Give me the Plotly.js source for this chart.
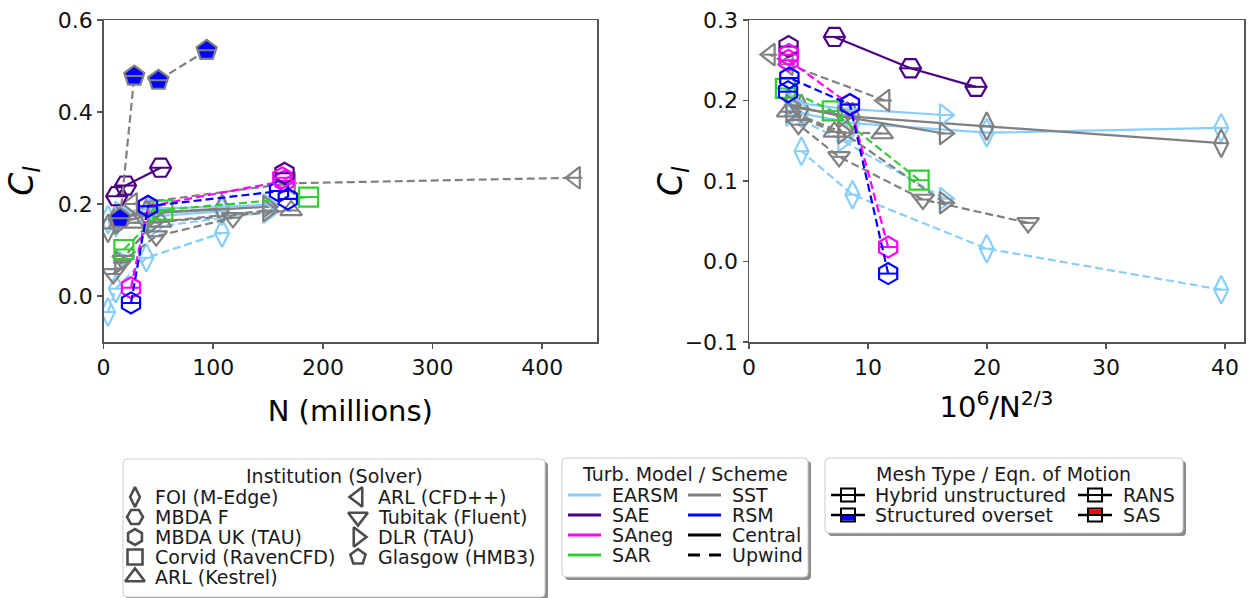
<!DOCTYPE html>
<html><head><meta charset="utf-8">
<script src="https://cdn.plot.ly/plotly-3.0.1.min.js"></script>
<style>html,body{margin:0;padding:0;background:#fff}#chart{width:1250px;height:598px}</style>
</head><body><div id="chart"></div>
<script>
// ---------------- DATA (N = mesh size in millions, Cl = lift coefficient) ----------------
const foiN = [4, 11.2, 39, 108];
const foiEarsmCentralCl = [0.166, 0.160, 0.172, 0.184];
const foiSstCentralCl   = [0.147, 0.168, 0.180, 0.190];
const foiEarsmUpwindCl  = [-0.035, 0.016, 0.083, 0.137];

const mbdaFN = [12, 20, 52];
const mbdaFSaeCl = [0.217, 0.240, 0.279];

const mbdaUkN = [25, 40.5, 165];
const mbdaUkSanegCl = [0.018, 0.195, 0.250];
const mbdaUkRsmN = [25, 40.5, 160];
const mbdaUkRsmCl = [-0.015, 0.195, 0.228];
const mbdaUkSaeFineN = [165];   const mbdaUkSaeFineCl = [0.267];
const mbdaUkSanegFineN = [163]; const mbdaUkSanegFineCl = [0.257];
const mbdaUkRsmFineN = [168];   const mbdaUkRsmFineCl = [0.211];

const corvidN = [18.5, 54, 187];
const corvidSarCl = [0.101, 0.187, 0.215];

const kestrelN = [26.7, 52, 171];
const kestrelSstCl = [0.159, 0.161, 0.186];

const cfdppN = [26, 170, 430];
const cfdppSstCl = [0.200, 0.245, 0.257];

const tubitakN = [8.8, 17.9, 48, 118];
const tubitakSstCl = [0.048, 0.077, 0.130, 0.170];

const dlrN = [15, 45, 150];
const dlrEarsmCentralCl = [0.182, 0.190, 0.198];
const dlrSstCentralCl   = [0.159, 0.180, 0.194];
const dlrEarsmUpwindCl  = [0.078, 0.150, 0.182];
const dlrSstUpwindCl    = [0.073, 0.160, 0.186];

const glasgowN = [15, 28, 50, 94];
const glasgowSstSasCl = [0.169, 0.478, 0.469, 0.534];

const leftXTicks = [0, 100, 200, 300, 400];
const leftYTicks = [0.0, 0.2, 0.4, 0.6];
const rightXTicks = [0, 10, 20, 30, 40];
const rightYTicks = [-0.1, 0.0, 0.1, 0.2, 0.3];

const institutionLabels = ['FOI (M-Edge)', 'MBDA F', 'MBDA UK (TAU)', 'Corvid (RavenCFD)', 'ARL (Kestrel)',
                           'ARL (CFD++)', 'Tubitak (Fluent)', 'DLR (TAU)', 'Glasgow (HMB3)'];
const modelLabels = ['EARSM', 'SAE', 'SAneg', 'SAR', 'SST', 'RSM', 'Central', 'Upwind'];
const meshLabels = ['Hybrid unstructured', 'Structured overset', 'RANS', 'SAS'];

// ---------------- STYLE ----------------
const COL = {EARSM:'#87cefa', SAE:'#4b0082', SANEG:'#ff00ff', SAR:'#32cd32', SST:'#808080', RSM:'#0000ff'};
const SYM = {foi:'diamond-tall', mbdaF:'hexagon2', mbdaUk:'hexagon', corvid:'square', kestrel:'triangle-up',
             cfdpp:'triangle-left', tubitak:'triangle-down', dlr:'triangle-right', glasgow:'pentagon'};
const SIZE = {'diamond-tall':20, 'hexagon2':21, 'hexagon':21, 'square':19, 'triangle-up':19, 'triangle-left':19,
              'triangle-down':19, 'triangle-right':19, 'pentagon':21};
const EW = {'diamond-tall':0.5, 'hexagon2':0.714, 'hexagon':0.62, 'square':0.714, 'triangle-up':0.55,
            'triangle-left':0.55, 'triangle-down':0.55, 'triangle-right':0.55, 'pentagon':0.66};
const DASH = '8px,4px';

const series = [
  {n:foiN, cl:foiEarsmUpwindCl, c:COL.EARSM, dash:DASH, sym:SYM.foi},
  {n:foiN, cl:foiEarsmCentralCl, c:COL.EARSM, dash:'solid', sym:SYM.foi},
  {n:foiN, cl:foiSstCentralCl, c:COL.SST, dash:'solid', sym:SYM.foi},
  {n:dlrN, cl:dlrEarsmCentralCl, c:COL.EARSM, dash:'solid', sym:SYM.dlr},
  {n:dlrN, cl:dlrSstCentralCl, c:COL.SST, dash:'solid', sym:SYM.dlr},
  {n:dlrN, cl:dlrEarsmUpwindCl, c:COL.EARSM, dash:DASH, sym:SYM.dlr},
  {n:dlrN, cl:dlrSstUpwindCl, c:COL.SST, dash:DASH, sym:SYM.dlr},
  {n:tubitakN, cl:tubitakSstCl, c:COL.SST, dash:DASH, sym:SYM.tubitak},
  {n:kestrelN, cl:kestrelSstCl, c:COL.SST, dash:DASH, sym:SYM.kestrel},
  {n:cfdppN, cl:cfdppSstCl, c:COL.SST, dash:DASH, sym:SYM.cfdpp},
  {n:corvidN, cl:corvidSarCl, c:COL.SAR, dash:DASH, sym:SYM.corvid},
  {n:mbdaUkN, cl:mbdaUkSanegCl, c:COL.SANEG, dash:DASH, sym:SYM.mbdaUk},
  {n:mbdaUkRsmN, cl:mbdaUkRsmCl, c:COL.RSM, dash:DASH, sym:SYM.mbdaUk},
  {n:mbdaUkSaeFineN, cl:mbdaUkSaeFineCl, c:COL.SAE, dash:DASH, sym:SYM.mbdaUk},
  {n:mbdaUkSanegFineN, cl:mbdaUkSanegFineCl, c:COL.SANEG, dash:DASH, sym:SYM.mbdaUk},
  {n:mbdaUkRsmFineN, cl:mbdaUkRsmFineCl, c:COL.RSM, dash:DASH, sym:SYM.mbdaUk},
  {n:mbdaFN, cl:mbdaFSaeCl, c:COL.SAE, dash:'solid', sym:SYM.mbdaF},
  // structured overset (blue fill), SAS
  {n:glasgowN, cl:glasgowSstSasCl, c:COL.SST, dash:DASH, sym:SYM.glasgow, fill:'#0000ff', leftOnly:true}
];

const traces = [];
series.forEach(s => {
  const xr = s.n.map(v => 100 / Math.pow(v, 2/3)); // 10^6 / (N*10^6)^(2/3)
  const panels = s.leftOnly ? [['x','y',s.n]] : [['x','y',s.n], ['x2','y2',xr]];
  panels.forEach(([xa, ya, xs]) => {
    const mk = {symbol: s.fill ? s.sym : s.sym + '-open', size:SIZE[s.sym],
                color: s.fill ? s.fill : s.c, line:{color:s.c, width:2.2}};
    traces.push({
      type:'scatter', mode:'lines+markers', x:xs, y:s.cl, xaxis:xa, yaxis:ya,
      line:{color:s.c, width:2.2, dash:s.dash}, marker:mk,
      hoverinfo:'skip', showlegend:false, cliponaxis:true
    });
    traces.push({
      type:'scatter', mode:'markers', x:xs, y:s.cl, xaxis:xa, yaxis:ya,
      marker:{symbol:'line-ew', size:SIZE[s.sym]*EW[s.sym], color:s.c, line:{color:s.c, width:2}},
      hoverinfo:'skip', showlegend:false
    });
  });
});

// ---------------- LEGENDS (drawn in a pixel-space overlay axis) ----------------
const TXT = {family:'DejaVu Sans, sans-serif', size:19, color:'#1a1a1a'};
const annotations = [];
const shapes = [];
function rrect(x0,y0,x1,y1,r){
  return `M${x0+r},${y0} L${x1-r},${y0} Q${x1},${y0} ${x1},${y0+r} L${x1},${y1-r} Q${x1},${y1} ${x1-r},${y1} ` +
         `L${x0+r},${y1} Q${x0},${y1} ${x0},${y1-r} L${x0},${y0+r} Q${x0},${y0} ${x0+r},${y0} Z`;
}
function box(x0,y0,x1,y1,title,tx,ty){
  shapes.push({type:'path', xref:'x3', yref:'y3', path:rrect(x0+3,y0+3,x1+3,y1+3,4), fillcolor:'#8c8c8c', line:{width:0}, layer:'below'});
  shapes.push({type:'path', xref:'x3', yref:'y3', path:rrect(x0,y0,x1,y1,4), fillcolor:'#ffffff', line:{color:'#cccccc', width:1}, layer:'below'});
  annotations.push({xref:'x3', yref:'y3', x:tx, y:ty, text:title, showarrow:false, xanchor:'center', yanchor:'middle', font:TXT});
}
function label(x,y,t){
  annotations.push({xref:'x3', yref:'y3', x:x, y:y, text:t, showarrow:false, xanchor:'left', yanchor:'middle', font:TXT});
}
function seg(x0,x1,y,color,w,dash){
  shapes.push({type:'line', xref:'x3', yref:'y3', x0:x0, x1:x1, y0:y, y1:y, line:{color:color, width:w, dash:dash||'solid'}});
}

// Box 1: institutions
box(123,459,545,597,'Institution (Solver)',334,476);
const instSyms = [SYM.foi, SYM.mbdaF, SYM.mbdaUk, SYM.corvid, SYM.kestrel, SYM.cfdpp, SYM.tubitak, SYM.dlr, SYM.glasgow];
const instSize = {'diamond-tall':14, 'hexagon2':16, 'hexagon':16, 'square':15, 'triangle-up':17, 'triangle-left':17,
                  'triangle-down':17, 'triangle-right':17, 'pentagon':16};
const rows1 = [497, 517, 537, 557, 577];
const legX = [], legY = [], legS = [], legZ = [];
institutionLabels.forEach((t,i) => {
  const col = i < 5 ? 0 : 1, row = i < 5 ? i : i - 5;
  const sx = col === 0 ? 135 : 358, tx = col === 0 ? 153 : 376;
  legX.push(sx); legY.push(rows1[row]); legS.push(instSyms[i] + '-open'); legZ.push(instSize[instSyms[i]]);
  label(tx, rows1[row], t);
});
traces.push({type:'scatter', mode:'markers', x:legX, y:legY, xaxis:'x3', yaxis:'y3',
  marker:{symbol:legS, size:legZ, color:'#000', line:{color:'#000', width:2.6}}, hoverinfo:'skip', showlegend:false});

// Box 2: turbulence model / scheme
box(562,458,808,577,'Turb. Model / Scheme',685,474);
const rows2 = [495, 515, 535, 555];
const modelCols = [COL.EARSM, COL.SAE, COL.SANEG, COL.SAR, COL.SST, COL.RSM, '#000', '#000'];
modelLabels.forEach((t,i) => {
  const col = i < 4 ? 0 : 1, row = i % 4;
  const x0 = col === 0 ? 568 : 688;
  if (t === 'Upwind') { seg(x0, x0+12, rows2[row], '#000', 3); seg(x0+21, x0+33, rows2[row], '#000', 3); }
  else seg(x0, x0+33, rows2[row], modelCols[i], 3);
  label(x0 + 42, rows2[row], t);
});

// Box 3: mesh type / equation of motion
box(825,458,1183,533,'Mesh Type / Eqn. of Motion',1003,474);
const rows3 = [495, 515];
meshLabels.forEach((t,i) => {
  const col = i < 2 ? 0 : 1, row = i % 2;
  const xc = col === 0 ? 848 : 1095, y = rows3[row];
  seg(xc-17, xc+17, y, '#000', 2.5);
  shapes.push({type:'rect', xref:'x3', yref:'y3', x0:xc-7, x1:xc+7, y0:y-6.5, y1:y+6.5, fillcolor:'#fff', line:{color:'#000', width:2}});
  if (t === 'Structured overset') shapes.push({type:'rect', xref:'x3', yref:'y3', x0:xc-6, x1:xc+6, y0:y, y1:y+5.5, fillcolor:'#0000ff', line:{width:0}});
  if (t === 'SAS') shapes.push({type:'rect', xref:'x3', yref:'y3', x0:xc-6, x1:xc+6, y0:y-5.5, y1:y, fillcolor:'#ff0000', line:{width:0}});
  seg(xc-7, xc+7, y, '#000', 2);
  label(col === 0 ? 873 : 1121, y, t);
});

// right-panel y title (placed closer to its tick labels, as in the reference)
const CLT = {family:'DejaVu Sans, sans-serif', size:33, color:'#000'};
annotations.push({xref:'x3', yref:'y3', x:672, y:181, text:'<i>C</i><sub><i>l</i></sub>', showarrow:false,
  textangle:-90, xanchor:'center', yanchor:'middle', font:CLT});

// ---------------- LAYOUT ----------------
const W = 1250, H = 598;
const TITLE = {family:'DejaVu Sans, sans-serif', size:29, color:'#000'};
const axBase = {showgrid:false, zeroline:false, showline:true, mirror:true, linecolor:'#555', linewidth:1.5,
  ticks:'outside', ticklen:5, tickwidth:1.5, tickcolor:'#555', automargin:false,
  tickfont:{family:'DejaVu Sans, sans-serif', size:22, color:'#111'}, fixedrange:true};
const yDom = [1 - 342/H, 1 - 20/H];
const layout = {
  width:W, height:H, margin:{l:0, r:0, t:0, b:0}, paper_bgcolor:'#fff', plot_bgcolor:'rgba(0,0,0,0)',
  showlegend:false,
  xaxis:Object.assign({}, axBase, {domain:[103.6/W, 597/W], range:[0, 450], tickvals:leftXTicks, anchor:'y',
    title:{text:'N (millions)', font:TITLE, standoff:22}}),
  yaxis:Object.assign({}, axBase, {domain:yDom, range:[-0.1, 0.6], tickvals:leftYTicks, tickformat:'.1f', anchor:'x',
    title:{text:'<i>C</i><sub><i>l</i></sub>', font:CLT, standoff:14}}),
  xaxis2:Object.assign({}, axBase, {domain:[749/W, 1244/W], range:[0, 41.6], tickvals:rightXTicks, anchor:'y2',
    title:{text:'10<sup>6</sup>/N<sup>2/3</sup>', font:TITLE, standoff:18}}),
  yaxis2:Object.assign({}, axBase, {domain:yDom, range:[-0.1, 0.3], tickvals:rightYTicks, tickformat:'.1f', anchor:'x2'}),
  xaxis3:{domain:[0,1], range:[0, W], visible:false, fixedrange:true, anchor:'y3'},
  yaxis3:{domain:[0,1], range:[H, 0], visible:false, fixedrange:true, anchor:'x3'},
  shapes:shapes, annotations:annotations
};

Plotly.newPlot('chart', traces, layout, {staticPlot:true, displayModeBar:false});
</script>
</body></html>
